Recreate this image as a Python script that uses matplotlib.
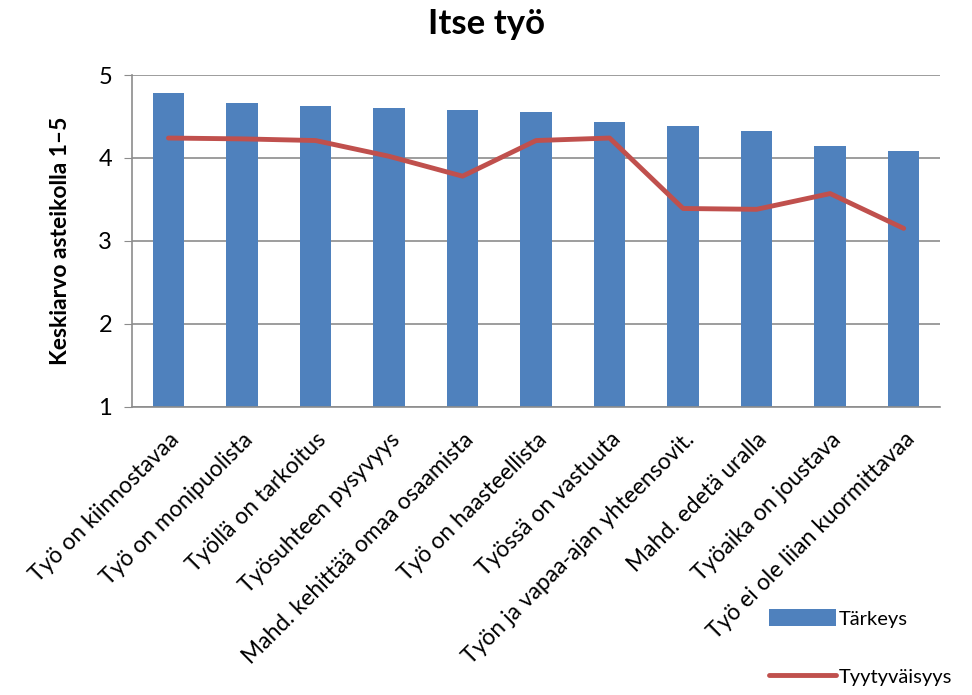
import matplotlib
matplotlib.use("Agg")
import matplotlib.pyplot as plt
import numpy as np

plt.rcParams['font.family'] = ['Lato', 'DejaVu Sans']

categories = ["Työ on kiinnostavaa", "Työ on monipuolista", "Työllä on tarkoitus",
              "Työsuhteen pysyvyys", "Mahd. kehittää omaa osaamista",
              "Työ on haasteellista", "Työssä on vastuuta",
              "Työn ja vapaa-ajan yhteensovit.", "Mahd. edetä uralla",
              "Työaika on joustava", "Työ ei ole liian kuormittavaa"]
tarkeys = [4.78, 4.66, 4.63, 4.60, 4.58, 4.55, 4.43, 4.39, 4.33, 4.15, 4.08]
tyytyvaisyys = [4.24, 4.23, 4.21, 4.02, 3.78, 4.21, 4.24, 3.39, 3.38, 3.57, 3.15]
yticks = [1, 2, 3, 4, 5]

fig = plt.figure(figsize=(9.72, 6.95), dpi=100)
ax = fig.add_axes([0.1355, 0.415, 0.832, 0.477])

x = np.arange(len(categories))
bars = ax.bar(x, np.array(tarkeys) - 1, bottom=1, width=0.43, color='#4F81BD', label='Tärkeys', zorder=2)
line, = ax.plot(x, tyytyvaisyys, color='#C0504D', lw=3.5, label='Tyytyväisyys', zorder=3, solid_capstyle='round')

ax.set_xlim(-0.5, len(categories) - 0.5)
ax.set_ylim(1, 5)
ax.set_yticks(yticks)
ax.set_yticklabels([str(t) for t in yticks], fontsize=17)
ax.yaxis.grid(True, color='#8C8C8C', lw=1.2, zorder=0)
ax.set_axisbelow(True)
for s in ['top', 'right']:
    ax.spines[s].set_visible(False)
ax.spines['left'].set_color('#8C8C8C')
ax.spines['bottom'].set_color('#8C8C8C')
ax.spines['left'].set_linewidth(1.2)
ax.spines['bottom'].set_linewidth(1.2)
ax.tick_params(axis='y', length=6, color='#8C8C8C', pad=8)
ax.tick_params(axis='x', length=0, pad=16)
ax.set_xticks(x)
ax.set_xticklabels(categories, rotation=45, ha='right', rotation_mode='anchor', fontsize=16.5)

ax.set_ylabel('Keskiarvo asteikolla 1–5', fontsize=16.5, fontweight='bold', labelpad=20)
fig.text(0.5, 0.965, 'Itse työ', fontsize=25, fontweight='bold', ha='center', va='center')

leg = fig.legend([bars, line], ['Tärkeys', 'Tyytyväisyys'], loc='upper left',
                 bbox_to_anchor=(0.783, 0.135), frameon=False,
                 fontsize=14.5, handlelength=3.3, handleheight=0.9, handletextpad=0.15,
                 labelspacing=2.0, borderaxespad=0)

fig.savefig('out.png', dpi=100)
